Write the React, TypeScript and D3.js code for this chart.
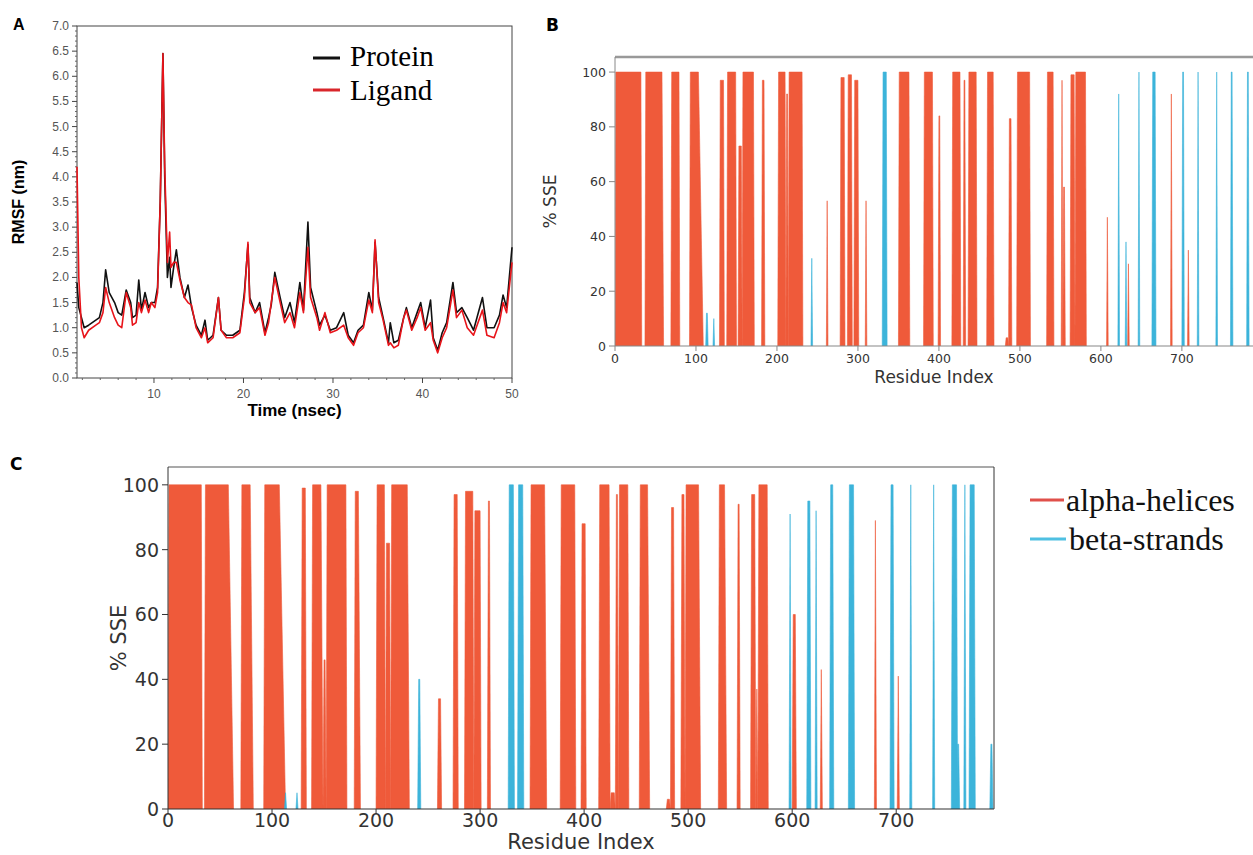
import React from 'react';
import * as d3 from 'd3';

// ---- Panel A: RMSF over time ----
const rmsfTime = [
  1.4, 1.6, 1.9, 2.2, 2.7, 3.5, 3.9, 4.3, 4.6, 5.0, 5.6, 6.0, 6.4, 6.9, 7.4, 7.6, 8.0, 8.3, 8.6, 9.0,
  9.4, 9.7, 10.1, 10.4, 10.7, 11.0, 11.2, 11.5, 11.75, 11.9, 12.2, 12.5, 12.9, 13.4, 13.8, 14.2, 14.7,
  15.3, 15.7, 16.0, 16.6, 17.2, 17.5, 18.1, 18.8, 19.6, 20.1, 20.5, 20.7, 21.3, 21.8, 22.4, 22.8, 23.1,
  23.5, 24.1, 24.6, 25.2, 25.7, 26.3, 26.7, 27.2, 27.5, 28.2, 28.5, 29.1, 29.7, 30.4, 31.2, 31.7, 32.3,
  32.8, 33.4, 34.0, 34.4, 34.7, 35.1, 35.6, 36.2, 36.4, 36.8, 37.3, 37.9, 38.2, 38.8, 39.4, 39.8, 40.3,
  40.9, 41.2, 41.7, 42.2, 42.7, 43.4, 43.8, 44.4, 45.0, 45.7, 46.7, 47.2, 48.0, 48.6, 49.0, 49.4, 49.7, 50.0,
];
const proteinRmsf = [
  1.9, 1.4, 1.2, 1.0, 1.05, 1.15, 1.2, 1.5, 2.15, 1.7, 1.5, 1.3, 1.25, 1.75, 1.5, 1.2, 1.25, 1.95, 1.35, 1.7,
  1.4, 1.5, 1.5, 1.8, 3.5, 6.45, 4.0, 2.0, 2.4, 1.8, 2.2, 2.55, 2.0, 1.6, 1.85, 1.4, 1.05,
  0.85, 1.15, 0.75, 0.85, 1.6, 0.95, 0.85, 0.85, 0.95, 1.7, 2.65, 1.6, 1.3, 1.5, 0.9, 1.2, 1.45,
  2.1, 1.6, 1.2, 1.5, 1.1, 1.9, 1.35, 3.1, 1.8, 1.3, 1.05, 1.25, 0.95, 1.0, 1.3, 0.85, 0.7,
  0.95, 1.05, 1.7, 1.35, 2.7, 1.6, 1.2, 0.7, 1.1, 0.7, 0.75, 1.2, 1.4, 1.0, 1.3, 1.5, 1.0,
  1.55, 0.8, 0.55, 0.9, 1.1, 1.9, 1.3, 1.4, 1.2, 0.95, 1.6, 1.0, 1.0, 1.25, 1.65, 1.4, 2.0, 2.6,
];
const ligandRmsf = [
  4.2, 2.0, 1.0, 0.8, 0.95, 1.05, 1.1, 1.3, 1.8, 1.5, 1.2, 1.05, 1.0, 1.7, 1.4, 1.05, 1.1, 1.5, 1.3, 1.55,
  1.3, 1.5, 1.4, 1.7, 3.5, 6.45, 4.2, 2.3, 2.9, 2.2, 2.3, 2.3, 1.95, 1.6, 1.5, 1.45, 1.0,
  0.8, 1.0, 0.7, 0.8, 1.6, 0.95, 0.8, 0.8, 0.9, 1.6, 2.7, 1.5, 1.3, 1.4, 0.85, 1.1, 1.5,
  2.0, 1.5, 1.1, 1.3, 1.0, 1.7, 1.3, 2.6, 1.6, 1.2, 0.95, 1.3, 0.9, 0.95, 1.05, 0.8, 0.65,
  0.9, 1.0, 1.55, 1.3, 2.75, 1.5, 1.15, 0.65, 0.7, 0.6, 0.65, 1.2, 1.35, 0.95, 1.2, 1.4, 0.95,
  1.1, 0.75, 0.5, 0.8, 1.0, 1.75, 1.2, 1.35, 1.0, 0.85, 1.35, 0.85, 0.8, 1.1, 1.5, 1.3, 1.8, 2.3,
];
const rmsfTicks = [0, 0.5, 1, 1.5, 2, 2.5, 3, 3.5, 4, 4.5, 5, 5.5, 6, 6.5, 7];
const timeTicks = [10, 20, 30, 40, 50];

// ---- Panels B and C: secondary structure (start, end, %SSE, right tail) ----
type Seg = number[];
const helixB: Seg[] = [
  [0, 33, 100], [37, 60, 100, 2], [69, 80, 100], [92, 109, 100, 6], [129, 135, 97], [138, 150, 100],
  [152, 157, 73], [157, 172, 100], [181, 185, 97], [201, 211, 100], [211, 214, 92], [214, 232, 100],
  [261, 263, 53], [278, 284, 98], [287, 293, 99], [295, 301, 97], [309, 311, 53], [350, 364, 100],
  [381, 393, 100], [399, 402, 84], [416, 427, 100], [430, 433, 97], [436, 447, 100], [459, 468, 100],
  [482, 486, 3], [486, 490, 83], [496, 513, 100], [533, 542, 100], [551, 553, 97], [553, 556, 58],
  [562, 568, 99], [568, 582, 100], [607, 609, 47], [633, 635, 30], [686, 688, 92], [707, 709, 35],
];
const strandB: Seg[] = [
  [112, 115, 12], [121, 123, 10], [242, 244, 32], [330, 336, 100], [621, 623, 92], [630, 632, 38],
  [646, 648, 100], [663, 668, 100], [700, 703, 100], [719, 721, 100], [742, 744, 100], [760, 763, 100],
  [780, 783, 100],
];
const helixC: Seg[] = [
  [0, 33, 100], [35, 63, 100, 5], [70, 82, 100, 3], [92, 113, 100, 6], [128, 133, 99], [138, 149, 100, 2],
  [149, 152, 46], [152, 172, 100], [179, 185, 98, 2], [200, 209, 100], [209, 214, 82], [214, 232, 100, 2],
  [259, 263, 34], [274, 279, 97], [285, 294, 98], [294, 301, 92], [307, 310, 95], [348, 364, 100, 2],
  [377, 392, 100], [397, 402, 88], [414, 425, 100], [425, 430, 5], [430, 433, 97], [433, 443, 100],
  [453, 463, 100, 2], [479, 483, 3], [483, 487, 93], [493, 497, 97], [497, 512, 100, 2], [529, 537, 100, 2],
  [547, 550, 94], [560, 565, 97], [565, 567, 37], [567, 577, 100], [600, 604, 60], [627, 629, 43],
  [679, 681, 89], [701, 703, 41],
];
const strandC: Seg[] = [
  [112, 114, 5], [123, 125, 5], [240, 243, 40], [327, 333, 100], [336, 342, 100], [597, 599, 91],
  [614, 618, 95], [622, 624, 92], [636, 640, 100], [654, 660, 100], [694, 698, 100], [713, 715, 100],
  [735, 737, 100], [753, 759, 100], [758, 761, 20], [765, 767, 100], [770, 776, 100], [790, 793, 20],
];
const sseTicks = [0, 20, 40, 60, 80, 100];
const residueTicks = [0, 100, 200, 300, 400, 500, 600, 700];

const HELIX = '#ef5a3a';
const STRAND = '#3cb4da';

const RmsfPanel = () => {
  const L = 77, R = 512, T = 26, B = 378;
  const x = d3.scaleLinear().domain([1.4, 50]).range([L, R]);
  const y = d3.scaleLinear().domain([0, 7]).range([B, T]);
  const line = (vals: number[]) =>
    d3.line<number>().x((_, i) => x(rmsfTime[i])).y(d => y(d))(vals) || '';
  const minorY = d3.range(0, 70).map(i => i / 10).filter(v => Math.round(v * 10) % 5 !== 0);
  const minorX = d3.range(2, 50, 2).filter(v => v % 10 !== 0);
  const font = '"Liberation Sans", Arial, sans-serif';
  return (
    <g fontFamily={font}>
      <text x={13} y={30} fontSize={16} fontWeight="bold">A</text>
      <rect x={L} y={T} width={R - L} height={B - T} fill="none" stroke="#444" strokeWidth={1} />
      {rmsfTicks.map(v => (
        <g key={v}>
          <line x1={L - 5} x2={L} y1={y(v)} y2={y(v)} stroke="#444" />
          <text x={L - 8} y={y(v) + 4} fontSize={12} textAnchor="end" fill="#555">{v.toFixed(1)}</text>
        </g>
      ))}
      {minorY.map(v => <line key={v} x1={L - 2} x2={L} y1={y(v)} y2={y(v)} stroke="#666" />)}
      {timeTicks.map(v => (
        <g key={v}>
          <line x1={x(v)} x2={x(v)} y1={B} y2={B + 5} stroke="#444" />
          <text x={x(v)} y={398} fontSize={12} textAnchor="middle" fill="#555">{v}</text>
        </g>
      ))}
      {minorX.map(v => <line key={v} x1={x(v)} x2={x(v)} y1={B} y2={B + 2} stroke="#666" />)}
      <path d={line(proteinRmsf)} fill="none" stroke="#111" strokeWidth={1.6} strokeLinejoin="round" />
      <path d={line(ligandRmsf)} fill="none" stroke="#e8141a" strokeWidth={1.6} strokeLinejoin="round" />
      <text transform={`translate(24,${(T + B) / 2}) rotate(-90)`} fontSize={16} fontWeight="bold" textAnchor="middle">RMSF (nm)</text>
      <text x={(L + R) / 2} y={416} fontSize={17} fontWeight="bold" textAnchor="middle">Time (nsec)</text>
      <g fontFamily='"Liberation Serif", "Times New Roman", serif' fontSize={29}>
        <line x1={313} x2={340} y1={58} y2={58} stroke="#111" strokeWidth={3} />
        <text x={350} y={66}>Protein</text>
        <line x1={313} x2={340} y1={90} y2={90} stroke="#d9262b" strokeWidth={3} />
        <text x={350} y={100}>Ligand</text>
      </g>
    </g>
  );
};

type SseProps = {
  L: number; R: number; T: number; B: number;
  helix: Seg[]; strand: Seg[];
  tickFont: number; labelFont: number; yLabelX: number; xLabelY: number; tickLabelY: number;
  axisColor: string; topColor: string; topWidth: number; textColor: string; rightSpine: boolean;
};

const SsePanel = (p: SseProps) => {
  const x = d3.scaleLinear().domain([0, 794]).range([p.L, p.R]);
  const y = d3.scaleLinear().domain([0, 105.5]).range([p.B, p.T]);
  const area = d3.area<number[]>().x(d => x(d[0])).y0(y(0)).y1(d => y(d[1]));
  const segPath = (s: Seg) => {
    const [a, b, top] = s;
    const r = Math.min(1, (b - a) / 2);
    const tail = Math.min(s[3] ?? r, b - a - r);
    return area([[a, 0], [a + r, top], [b - tail, top], [b, 0]]) || '';
  };
  const font = '"DejaVu Sans", Verdana, sans-serif';
  return (
    <g fontFamily={font} fill={p.textColor}>
      <defs>
        <clipPath id={`clip${p.L}`}><rect x={p.L} y={p.T} width={p.R - p.L} height={p.B - p.T} /></clipPath>
      </defs>
      <g clipPath={`url(#clip${p.L})`}>
        {p.helix.map((s, i) => <path key={'h' + i} d={segPath(s)} fill={HELIX} stroke={HELIX} strokeWidth={0.6} />)}
        {p.strand.map((s, i) => <path key={'s' + i} d={segPath(s)} fill={STRAND} stroke={STRAND} strokeWidth={0.6} />)}
      </g>
      <line x1={p.L} x2={p.R} y1={p.T} y2={p.T} stroke={p.topColor} strokeWidth={p.topWidth} />
      <line x1={p.L} x2={p.R} y1={p.B} y2={p.B} stroke={p.axisColor} strokeWidth={1.2} />
      <line x1={p.L} x2={p.L} y1={p.T} y2={p.B} stroke={p.axisColor} strokeWidth={1} />
      {p.rightSpine && <line x1={p.R} x2={p.R} y1={p.T} y2={p.B} stroke={p.axisColor} strokeWidth={1} />}
      {sseTicks.map(v => (
        <g key={v}>
          <line x1={p.L - 6} x2={p.L} y1={y(v)} y2={y(v)} stroke={p.axisColor} />
          <text x={p.L - 9} y={y(v) + p.tickFont * 0.36} fontSize={p.tickFont} textAnchor="end" stroke="none">{v}</text>
        </g>
      ))}
      {residueTicks.map(v => (
        <g key={v}>
          <line x1={x(v)} x2={x(v)} y1={p.B} y2={p.B + 5} stroke={p.axisColor} />
          <text x={x(v)} y={p.tickLabelY} fontSize={p.tickFont} textAnchor="middle" stroke="none">{v}</text>
        </g>
      ))}
      <text transform={`translate(${p.yLabelX},${(p.T + p.B) / 2}) rotate(-90)`} fontSize={p.labelFont} textAnchor="middle">% SSE</text>
      <text x={(p.L + Math.min(p.R, 1253)) / 2} y={p.xLabelY} fontSize={p.labelFont} textAnchor="middle">Residue Index</text>
    </g>
  );
};

export default function App() {
  return (
    <svg width={1253} height={855} style={{ position: 'absolute', left: 0, top: 0, background: '#fff' }}>
      <rect width={1253} height={855} fill="#fff" />
      <RmsfPanel />
      <text x={546} y={31} fontSize={17} fontWeight="bold" fontFamily='"DejaVu Sans", sans-serif'>B</text>
      <SsePanel L={615} R={1258} T={57} B={346} helix={helixB} strand={strandB}
        tickFont={12.5} labelFont={17} yLabelX={556} xLabelY={383} tickLabelY={363}
        axisColor="#888" topColor="#999" topWidth={2.5} textColor="#333" rightSpine={false} />
      <text x={10} y={470} fontSize={17} fontWeight="bold" fontFamily='"DejaVu Sans", sans-serif'>C</text>
      <SsePanel L={168} R={994} T={467} B={809} helix={helixC} strand={strandC}
        tickFont={19} labelFont={21} yLabelX={126} xLabelY={849} tickLabelY={827}
        axisColor="#333" topColor="#555" topWidth={1.2} textColor="#333" rightSpine={true} />
      <g fontFamily='"Liberation Serif", "Times New Roman", serif' fontSize={32} fill="#111">
        <line x1={1030} x2={1064} y1={500} y2={500} stroke="#e0504a" strokeWidth={3} />
        <text x={1066} y={511}>alpha-helices</text>
        <line x1={1030} x2={1066} y1={539} y2={539} stroke="#4fc0e2" strokeWidth={3} />
        <text x={1069} y={550}>beta-strands</text>
      </g>
    </svg>
  );
}
